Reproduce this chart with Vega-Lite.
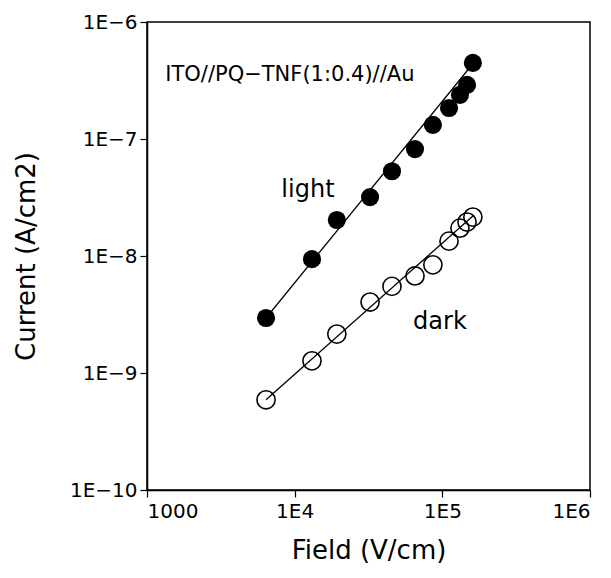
{
  "$schema": "https://vega.github.io/schema/vega-lite/v6.json",
  "autosize": "none",
  "width": 443,
  "height": 468,
  "padding": {"left": 147, "top": 22, "right": 21, "bottom": 88},
  "background": "white",
  "config": {
    "view": {"stroke": "black", "strokeWidth": 1.5},
    "font": "DejaVu Sans",
    "axis": {"domain": true, "domainColor": "black", "domainWidth": 1.5, "tickColor": "black", "tickWidth": 1.2, "grid": false, "labelColor": "black", "titleColor": "black", "titleFontWeight": "normal"}
  },
  "datasets": {
    "pts": [
      {"field": 6400, "current": 2.95e-9, "series": "light"},
      {"field": 13100, "current": 9.4e-9, "series": "light"},
      {"field": 19300, "current": 2.03e-8, "series": "light"},
      {"field": 32400, "current": 3.19e-8, "series": "light"},
      {"field": 45600, "current": 5.3e-8, "series": "light"},
      {"field": 65300, "current": 8.2e-8, "series": "light"},
      {"field": 86300, "current": 1.32e-7, "series": "light"},
      {"field": 111000, "current": 1.84e-7, "series": "light"},
      {"field": 131600, "current": 2.38e-7, "series": "light"},
      {"field": 147000, "current": 2.9e-7, "series": "light"},
      {"field": 161000, "current": 4.47e-7, "series": "light"},
      {"field": 6400, "current": 5.9e-10, "series": "dark"},
      {"field": 13100, "current": 1.27e-9, "series": "dark"},
      {"field": 19300, "current": 2.15e-9, "series": "dark"},
      {"field": 32400, "current": 4.04e-9, "series": "dark"},
      {"field": 45600, "current": 5.5e-9, "series": "dark"},
      {"field": 65300, "current": 6.75e-9, "series": "dark"},
      {"field": 86300, "current": 8.4e-9, "series": "dark"},
      {"field": 111000, "current": 1.34e-8, "series": "dark"},
      {"field": 131600, "current": 1.73e-8, "series": "dark"},
      {"field": 147000, "current": 1.95e-8, "series": "dark"},
      {"field": 161000, "current": 2.15e-8, "series": "dark"}
    ],
    "fit": [
      {"field": 6400, "current": 2.95e-9, "series": "light"},
      {"field": 161000, "current": 4.4e-7, "series": "light"},
      {"field": 6400, "current": 5.9e-10, "series": "dark"},
      {"field": 161000, "current": 2.2e-8, "series": "dark"}
    ],
    "labels": [
      {"field": 1330, "current": 3.55e-7, "text": "ITO//PQ\u2212TNF(1:0.4)//Au", "kind": "title"},
      {"field": 12300, "current": 3.7e-8, "text": "light", "kind": "series"},
      {"field": 96400, "current": 2.75e-9, "text": "dark", "kind": "series"}
    ]
  },
  "layer": [
    {
      "data": {"name": "fit"},
      "mark": {"type": "line", "color": "black", "strokeWidth": 1.3},
      "encoding": {
        "x": {"field": "field", "type": "quantitative", "scale": {"type": "log", "domain": [1000, 1000000]},
          "axis": {"title": "Field (V/cm)", "values": [1000, 10000, 100000, 1000000], "labelExpr": "datum.value == 1000 ? '1000' : '1E' + round(log(datum.value)/LN10)", "labelFontSize": 20, "titleFontSize": 26, "tickSize": 7, "labelPadding": 4, "titlePadding": 16}},
        "y": {"field": "current", "type": "quantitative", "scale": {"type": "log", "domain": [1e-10, 1e-6]},
          "axis": {"title": "Current (A/cm2)", "values": [1e-10, 1e-9, 1e-8, 1e-7, 1e-6], "labelExpr": "'1E\u2212' + round(-log(datum.value)/LN10)", "labelFontSize": 20, "titleFontSize": 26, "tickSize": 7, "labelPadding": 3, "titlePadding": 30}},
        "detail": {"field": "series"}
      }
    },
    {
      "data": {"name": "pts"},
      "transform": [{"filter": "datum.series == 'light'"}],
      "mark": {"type": "point", "shape": "circle", "filled": true, "color": "black", "opacity": 1, "size": 330},
      "encoding": {
        "x": {"field": "field", "type": "quantitative"},
        "y": {"field": "current", "type": "quantitative"}
      }
    },
    {
      "data": {"name": "pts"},
      "transform": [{"filter": "datum.series == 'dark'"}],
      "mark": {"type": "point", "shape": "circle", "filled": false, "color": "black", "opacity": 1, "strokeWidth": 1.6, "size": 330},
      "encoding": {
        "x": {"field": "field", "type": "quantitative"},
        "y": {"field": "current", "type": "quantitative"}
      }
    },
    {
      "data": {"name": "labels"},
      "transform": [{"filter": "datum.kind == 'title'"}],
      "mark": {"type": "text", "align": "left", "baseline": "middle", "fontSize": 21, "color": "black"},
      "encoding": {
        "x": {"field": "field", "type": "quantitative"},
        "y": {"field": "current", "type": "quantitative"},
        "text": {"field": "text"}
      }
    },
    {
      "data": {"name": "labels"},
      "transform": [{"filter": "datum.kind == 'series'"}],
      "mark": {"type": "text", "align": "center", "baseline": "middle", "fontSize": 24, "color": "black"},
      "encoding": {
        "x": {"field": "field", "type": "quantitative"},
        "y": {"field": "current", "type": "quantitative"},
        "text": {"field": "text"}
      }
    }
  ]
}
